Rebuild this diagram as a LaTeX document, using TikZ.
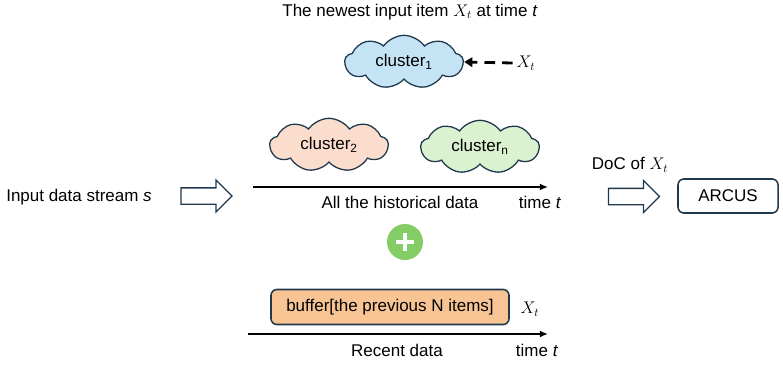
\documentclass[tikz,border=0pt]{standalone}
\usepackage{fontspec}
\setmainfont{Liberation Sans}
\usepackage{tikz}
\usetikzlibrary{
  % clouds
  shapes.symbols,%
  % block arrows
  shapes.arrows,%
  arrows.meta,%
  positioning
}
\definecolor{navy}{RGB}{31,56,77}
\definecolor{skyfill}{RGB}{196,228,245}
\definecolor{peachfill}{RGB}{251,221,205}
\definecolor{mintfill}{RGB}{218,242,208}
\definecolor{bufferfill}{RGB}{248,196,148}
\definecolor{plusgreen}{RGB}{132,204,102}
\tikzset{>=Latex}
\tikzset{font=\fontsize{14.5}{17}\selectfont}
\tikzset{clusterbox/.style={cloud, cloud puffs=9, cloud puff arc=110, aspect=2.4,
    draw=navy, line width=1.1pt, minimum width=3.55cm, minimum height=1.6cm, inner sep=0pt}}
\tikzset{blockarrow/.style={single arrow, draw=navy, line width=1.1pt, fill=white,
    minimum height=1.53cm, inner xsep=0pt, inner ysep=0.225cm,
    single arrow head extend=0.24cm}}
\tikzset{timeline/.style={-{Latex[length=7pt,width=6pt]}, line width=1.4pt}}
\tikzset{roundbox/.style={draw=navy, line width=1.3pt, rounded corners=5pt}}

\begin{document}
\begin{tikzpicture}[x=0.03cm, y=-0.03cm]
  \useasboundingbox (0,0) rectangle (783,368);
  % newest item
  \node (title) at (410,12) {The newest input item $X_t$ at time \textit{t}};
  \node[clusterbox, fill=skyfill] (c1) at (404,62) {cluster\textsubscript{1}};
  \node (xnew) at (526,63) {$X_t$};
  \draw[-{Triangle[length=7pt,width=8pt]}, line width=2.4pt, dash pattern=on 9pt off 6pt]
    (xnew.west) -- (c1.east);
  % historical data
  \node[clusterbox, fill=peachfill] (c2) at (329,145) {cluster\textsubscript{2}};
  \node[clusterbox, fill=mintfill] (cn) at (480,147) {cluster\textsubscript{n}};
  \coordinate (histstart) at (253,187);
  \coordinate (histend) at (548,187);
  \draw[timeline] (histstart) -- (histend);
  \node (hist) at (400,202) {All the historical data};
  \node (histtime) at (540,202) {time \textit{t}};
  % input
  \node (input) at (79,197) {Input data stream \textit{s}};
  \node[blockarrow] (inarrow) at (202.5,196) {};
  % plus
  \node[circle, fill=plusgreen, minimum size=1.08cm, inner sep=0pt] (plus) at (405,242) {};
  \draw[white, line width=4pt] (plus.center) ++(-9,0) -- ++(18,0)
    (plus.center) ++(0,-9) -- ++(0,18);
  % recent data
  \node[roundbox, fill=bufferfill, minimum width=7.14cm, minimum height=1.05cm] (buffer)
    at (390,307) {buffer[the previous N items]};
  \node (xbuf) at (530,309) {$X_t$};
  \coordinate (recstart) at (248,334);
  \coordinate (recend) at (548,334);
  \draw[timeline] (recstart) -- (recend);
  \node (recent) at (397,350) {Recent data};
  \node (rectime) at (537,350) {time \textit{t}};
  % output
  \node (doc) at (630,165) {DoC of $X_t$};
  \node[blockarrow] (docarrow) at (630,196.5) {};
  \node[roundbox, minimum width=3cm, minimum height=1.02cm] (arcus) at (728,196) {ARCUS};
\end{tikzpicture}
\end{document}
